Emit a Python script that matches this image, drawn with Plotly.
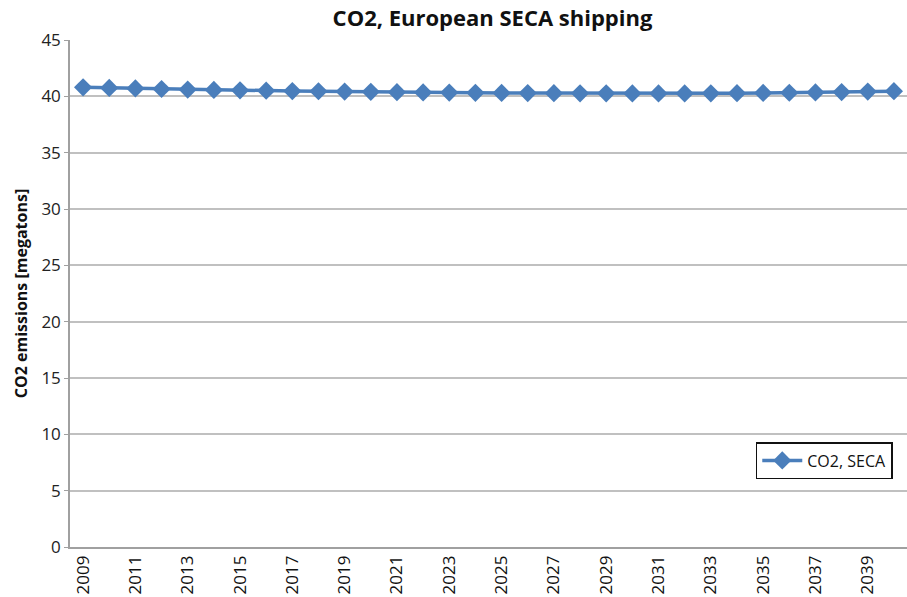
import plotly.graph_objects as go

years = [str(y) for y in range(2009, 2041)]
co2_seca = [40.80, 40.75, 40.70, 40.65, 40.60, 40.57, 40.53, 40.50, 40.47, 40.45,
            40.42, 40.40, 40.37, 40.35, 40.33, 40.31, 40.30, 40.29, 40.28, 40.27,
            40.27, 40.26, 40.26, 40.26, 40.27, 40.28, 40.30, 40.32, 40.35, 40.38,
            40.42, 40.46]
tick_labels = years[::2]
y_ticks = list(range(0, 46, 5))

fig = go.Figure()
fig.add_trace(go.Scatter(
    x=years, y=co2_seca, mode="lines+markers", name="CO2, SECA",
    line=dict(color="#4a7ebb", width=3.5),
    marker=dict(symbol="diamond", size=14, color="#4a7ebb"),
))

fig.update_layout(
    width=907, height=597,
    margin=dict(l=70, r=0, t=40, b=50),
    paper_bgcolor="white", plot_bgcolor="white",
    font=dict(family="Open Sans", color="#222"),
    title=dict(text="<b>CO2, European SECA shipping</b>", x=0.543, xanchor="center",
               y=0.97, yanchor="middle", font=dict(size=22, color="#111")),
    showlegend=True,
    legend=dict(x=0.983, xanchor="right", y=0.207, yanchor="top",
                bordercolor="#111", borderwidth=1.5, bgcolor="white",
                font=dict(size=16, color="#111"), itemwidth=40),
)
fig.update_xaxes(
    type="category", categoryorder="array", categoryarray=years,
    range=[-0.5, len(years) - 0.5],
    tickmode="array", tickvals=tick_labels, ticktext=tick_labels,
    tickangle=-90, tickfont=dict(size=17, color="#111"),
    showgrid=False, showline=True, linecolor="#a0a0a0", linewidth=1.5,
    ticks="", zeroline=False,
)
fig.update_yaxes(
    range=[0, 45], tickmode="array", tickvals=y_ticks,
    tickfont=dict(size=17, color="#222"),
    showgrid=True, gridcolor="#c0c0c0", gridwidth=1.5,
    showline=True, linecolor="#a0a0a0", linewidth=1.5,
    zeroline=False, ticks="outside", ticklen=4, tickcolor="#a0a0a0",
    title=dict(text="<b>CO2 emissions [megatons]</b>", font=dict(size=16, color="#111"),
               standoff=10),
)
fig.write_html("out.html")
